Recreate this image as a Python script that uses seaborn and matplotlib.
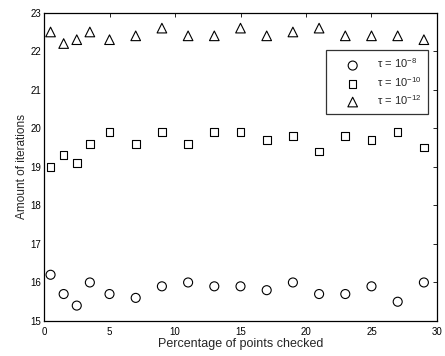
import matplotlib
matplotlib.use("Agg")
import matplotlib.pyplot as plt
import seaborn as sns
import pandas as pd

x = [0.5, 1.5, 2.5, 3.5, 5, 7, 9, 11, 13, 15, 17, 19, 21, 23, 25, 27, 29]
tau8 = [16.2, 15.7, 15.4, 16.0, 15.7, 15.6, 15.9, 16.0, 15.9, 15.9, 15.8, 16.0, 15.7, 15.7, 15.9, 15.5, 16.0]
tau10 = [19.0, 19.3, 19.1, 19.6, 19.9, 19.6, 19.9, 19.6, 19.9, 19.9, 19.7, 19.8, 19.4, 19.8, 19.7, 19.9, 19.5]
tau12 = [22.5, 22.2, 22.3, 22.5, 22.3, 22.4, 22.6, 22.4, 22.4, 22.6, 22.4, 22.5, 22.6, 22.4, 22.4, 22.4, 22.3]
labels = ['τ = 10$^{-8}$', 'τ = 10$^{-10}$', 'τ = 10$^{-12}$']
markers = ['o', 's', '^']
xticks = [0, 5, 10, 15, 20, 25, 30]
yticks = [15, 16, 17, 18, 19, 20, 21, 22, 23]

sns.set_theme(style="white")
plt.rcParams['font.family'] = ['Liberation Sans', 'DejaVu Sans']
plt.rcParams['mathtext.fontset'] = 'custom'
plt.rcParams['mathtext.rm'] = 'Liberation Sans'
plt.rcParams['mathtext.it'] = 'Liberation Sans:italic'
plt.rcParams['mathtext.sf'] = 'Liberation Sans'
plt.rcParams['mathtext.default'] = 'regular'

fig = plt.figure(figsize=(4.45, 3.56), dpi=100)
ax = fig.add_axes([0.0989, 0.0983, 0.8831, 0.8660])

for vals, lab, m in zip([tau8, tau10, tau12], labels, markers):
    df = pd.DataFrame({'x': x, 'y': vals})
    sz = 42 if m == 'o' else (30 if m == 's' else 48)
    sns.scatterplot(data=df, x='x', y='y', marker=m, s=sz, facecolor='none',
                    edgecolor='black', linewidth=0.8, label=lab, ax=ax)

ax.set_xlim(0, 30)
ax.set_ylim(15, 23)
ax.set_xticks(xticks)
ax.set_yticks(yticks)
ax.set_xlabel('Percentage of points checked', fontsize=9, labelpad=1)
ax.set_ylabel('Amount of iterations', fontsize=8.5, labelpad=2)
ax.tick_params(axis='x', pad=4)
ax.tick_params(axis='y', pad=2)
ax.tick_params(direction='in', length=3, width=0.6, top=True, right=True,
               labelsize=7, colors='black')
for sp in ax.spines.values():
    sp.set_color('black')
    sp.set_linewidth(0.9)

leg = ax.legend(loc='upper left', bbox_to_anchor=(0.7176, 0.879), fontsize=8,
                frameon=True, fancybox=False, edgecolor='black', borderpad=0.6,
                labelspacing=0.4, handlelength=3.6, handletextpad=0.35,
                borderaxespad=0)
leg.get_frame().set_linewidth(0.9)

fig.savefig('out.png', dpi=100)
